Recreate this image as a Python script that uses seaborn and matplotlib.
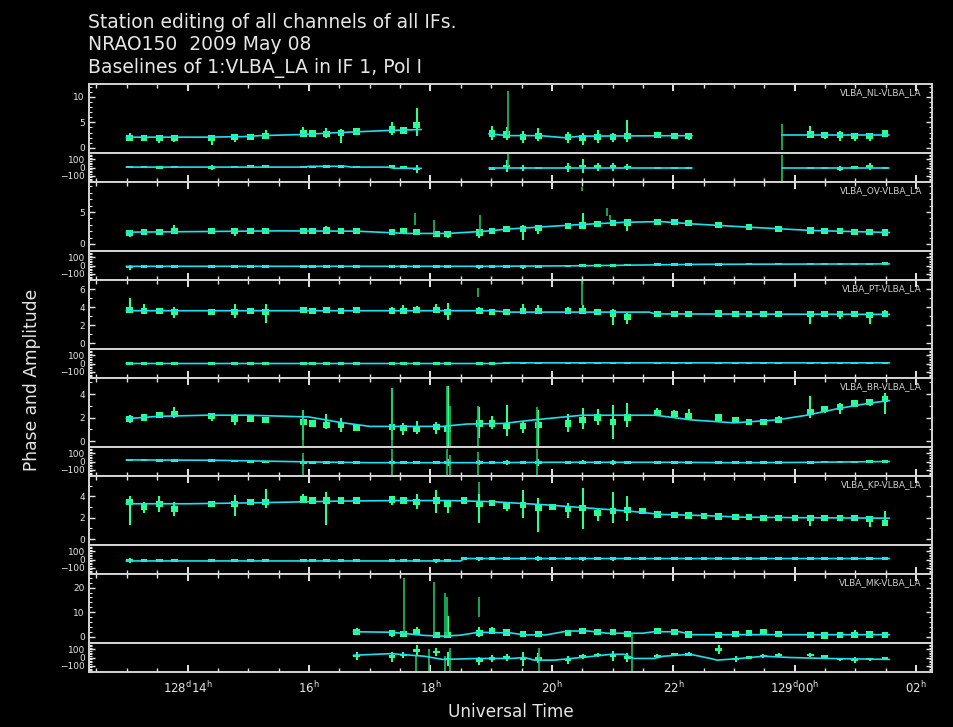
import numpy as np
import pandas as pd
import matplotlib
matplotlib.use("Agg")
import matplotlib.pyplot as plt
import seaborn as sns
from matplotlib.ticker import MultipleLocator, FixedLocator

nan = np.nan

# scan start times, hours of day 128
scan_t = [12.99, 13.23, 13.48, 13.73, 14.34, 14.72, 14.98, 15.23, 15.85, 16.00,
          16.23, 16.47, 16.73, 17.31, 17.50, 17.72, 18.04, 18.23, 18.50, 18.75,
          18.96, 19.20, 19.47, 19.72, 19.96, 20.21, 20.45, 20.70, 20.95, 21.19,
          21.44, 21.68, 21.96, 22.20, 22.45, 22.69, 22.97, 23.19, 23.43, 23.68,
          23.95, 24.20, 24.44, 24.69, 24.93, 25.18, 25.43]
scan_len = 0.11

baselines = ["VLBA_NL-VLBA_LA", "VLBA_OV-VLBA_LA", "VLBA_PT-VLBA_LA",
             "VLBA_BR-VLBA_LA", "VLBA_KP-VLBA_LA", "VLBA_MK-VLBA_LA"]

# ---- NL ----
nl_amp = [2.0, 2.0, 1.9, 1.9, 2.0, 2.1, 2.1, 2.3, 2.8, 2.8,
          2.7, 2.9, 3.2, 3.6, 3.4, 4.5, nan, nan, nan, nan,
          2.8, 2.6, 2.2, 2.3, nan, 2.1, 1.9, 2.1, 2.1, 2.4,
          nan, 2.5, 2.4, 2.3, nan, nan, nan, nan, nan, nan,
          nan, 2.6, 2.5, 2.5, 2.4, 2.3, 2.8]
nl_lo = [1.6, 1.8, 1.0, 1.2, 0.6, 1.1, 1.9, 2.0, 2.3, 2.5,
         2.0, 0.9, 2.8, 2.5, 3.2, 2.4, nan, nan, nan, nan,
         1.6, 1.5, 1.0, 1.4, nan, 1.0, 0.6, 1.0, 1.2, 1.2,
         nan, 2.0, 1.8, 1.5, nan, nan, nan, nan, nan, nan,
         nan, 2.0, 1.8, 1.3, 1.3, 1.3, 2.3]
nl_hi = [2.9, 2.3, 2.3, 2.6, 2.6, 2.8, 2.4, 3.5, 4.0, 3.2,
         3.8, 3.6, 3.9, 5.0, 3.7, 7.8, nan, nan, nan, nan,
         4.2, 4.1, 3.4, 3.8, nan, 3.2, 3.0, 3.5, 3.0, 5.5,
         nan, 2.9, 2.9, 2.8, nan, nan, nan, nan, nan, nan,
         nan, 4.2, 3.0, 3.3, 2.8, 2.9, 3.1]
nl_ph = [5, 5, 3, 5, 0, 8, 10, 10, 5, 5,
         12, 15, 5, 10, 5, -20, nan, nan, nan, nan,
         -10, 20, -5, -5, nan, 0, 20, 10, 10, 5,
         nan, -5, -5, -5, nan, nan, nan, nan, nan, nan,
         nan, -5, -5, -10, 0, 10, -5]
nl_ph_err = [12, 10, 10, 12, 25, 15, 10, 10, 12, 10,
             15, 18, 10, 18, 10, 45, nan, nan, nan, nan,
             20, 70, 40, 15, nan, 60, 90, 50, 50, 35,
             nan, 12, 12, 12, nan, nan, nan, nan, nan, nan,
             nan, 12, 12, 30, 12, 45, 12]
nl_spk = [(19.27, 2.5, 11.2), (23.79, -0.5, 4.7)]
nl_ph_spk = [(19.27, 20, 180), (23.79, -180, 150)]
nl_mod_t = [12.99, 14.3, 14.9, 15.2, 15.85, 16.5, 17.3, 17.85, nan,
            18.96, 19.27, 19.8, 20.2, 20.5, 22.31, nan, 23.79, 25.56]
nl_mod = [2.1, 2.1, 2.2, 2.4, 2.6, 3.0, 3.4, 3.6, nan,
          2.75, 2.4, 2.4, 2.0, 2.3, 2.4, nan, 2.6, 2.6]
nl_pmod_t = [12.99, 15.9, 16.0, 16.6, 16.7, 17.3, 17.4, 17.85, nan,
             18.96, 22.31, nan, 23.79, 25.56]
nl_pmod = [5, 5, 15, 15, 5, 5, -10, -10, nan, -5, -5, nan, -5, -5]

# ---- OV ----
ov_amp = [1.7, 1.9, 1.9, 2.0, 2.0, 2.0, 2.0, 2.0, 2.0, 2.05,
          2.1, 2.0, 2.0, 1.9, 2.0, 1.9, 1.6, 1.5, nan, 1.8,
          2.0, 2.35, 2.4, 2.45, nan, 2.8, 2.9, 3.1, 3.3, 3.35,
          nan, 3.45, 3.4, 3.3, nan, 3.0, nan, 2.65, nan, 2.4,
          nan, 2.1, 2.05, 2.0, 1.9, 1.85, 1.8]
ov_lo = [1.1, 1.7, 1.7, 1.8, 1.8, 1.2, 1.8, 1.5, 1.8, 1.8,
         1.9, 1.8, 1.8, 1.5, 1.8, 1.6, 1.2, 1.0, nan, 0.9,
         1.8, 2.0, 0.7, 1.5, nan, 2.5, 2.4, 2.9, 3.1, 2.0,
         nan, 3.3, 3.25, 3.15, nan, 2.85, nan, 2.5, nan, 2.25,
         nan, 1.7, 1.9, 1.85, 1.75, 1.5, 1.65]
ov_hi = [2.0, 2.1, 2.1, 2.9, 2.2, 2.3, 2.2, 2.4, 2.3, 2.3,
         2.8, 2.2, 2.2, 2.2, 2.2, 2.2, 1.9, 1.9, nan, 2.4,
         2.3, 2.7, 3.0, 2.6, nan, 3.3, 4.8, 3.3, 3.5, 3.6,
         nan, 3.6, 3.55, 3.45, nan, 3.15, nan, 2.8, nan, 2.55,
         nan, 2.3, 2.2, 2.15, 2.05, 2.0, 2.3]
ov_ph = [-20, -10, -12, -10, -10, -10, -10, -12, -10, -10,
         -10, -10, -10, -12, -10, -10, -12, -15, nan, -15,
         -10, -10, -15, -10, nan, -5, 0, 0, 2, 5,
         nan, 10, 12, 12, nan, 15, nan, 17, nan, 18,
         nan, 20, 20, 20, 20, 20, 22]
ov_ph_err = [30, 10, 10, 10, 10, 10, 10, 10, 10, 10,
             10, 10, 10, 20, 10, 10, 10, 20, nan, 25,
             10, 10, 25, 10, nan, 10, 15, 10, 10, 10,
             nan, 10, 10, 10, nan, 10, nan, 10, nan, 10,
             nan, 10, 10, 10, 10, 10, 10]
ov_spk = [(17.74, 3.0, 4.8), (18.06, 1.2, 3.7), (18.82, 1.5, 4.6),
          (20.49, 8.3, 8.9), (20.90, 4.4, 5.7), (20.96, 3.8, 4.6)]
ov_ph_spk = []
ov_mod_t = [12.99, 14.3, 15.5, 16.8, 17.6, 18.3, 18.9, 19.3, 20.3, 21.2,
            21.8, 22.3, 23.2, 23.8, 24.3, 25.56]
ov_mod = [1.85, 1.95, 2.05, 2.0, 1.65, 1.65, 2.0, 2.35, 2.95, 3.4,
          3.5, 3.15, 2.65, 2.35, 2.1, 1.8]
ov_pmod_t = [12.99, 19.0, 20.5, 21.7, 22.5, 25.56]
ov_pmod = [-10, -10, -3, 8, 15, 20]

# ---- PT ----
pt_amp = [3.7, 3.6, 3.55, 3.45, 3.5, 3.5, 3.55, 3.5, 3.65, 3.6,
          3.65, 3.55, 3.65, 3.55, 3.6, 3.7, 3.7, 3.5, nan, 3.6,
          3.5, 3.45, 3.6, 3.6, nan, 3.6, 3.55, 3.5, 3.3, 2.9,
          nan, 3.25, 3.25, 3.2, nan, 3.3, 3.25, 3.25, 3.2, 3.2,
          nan, 3.25, 3.25, 3.2, 3.2, 3.15, 3.25]
pt_lo = [3.5, 3.4, 3.3, 2.85, 3.2, 2.8, 3.4, 2.2, 3.5, 3.5,
         3.5, 3.45, 3.5, 3.4, 3.5, 3.5, 3.5, 2.6, nan, 3.4,
         3.3, 3.3, 3.4, 3.4, nan, 3.4, 3.2, 3.3, 2.0, 2.1,
         nan, 3.1, 3.1, 3.05, nan, 3.2, 3.15, 3.15, 3.1, 3.1,
         nan, 2.15, 3.1, 2.7, 3.1, 2.1, 3.0]
pt_hi = [5.0, 4.3, 3.8, 4.0, 3.7, 4.3, 3.7, 4.3, 3.9, 3.7,
         4.0, 3.7, 3.9, 4.0, 4.2, 4.1, 4.3, 4.5, nan, 4.0,
         3.7, 3.6, 4.3, 4.2, nan, 4.0, 4.2, 3.7, 3.8, 3.4,
         nan, 3.4, 3.4, 3.35, nan, 3.45, 3.35, 3.35, 3.3, 3.35,
         nan, 3.45, 3.4, 3.45, 3.35, 3.5, 3.7]
pt_ph = [0, 0, 0, 0, 0, 0, 0, 0, 0, 0,
         0, 0, 0, 0, 0, 0, 0, 0, nan, 0,
         0, 8, 8, 8, nan, 8, 8, 8, 8, 8,
         nan, 8, 8, 8, nan, 8, 8, 8, 8, 8,
         nan, 8, 8, 8, 8, 8, 8]
pt_ph_err = [8, 8, 8, 8, 8, 8, 8, 8, 8, 8,
             8, 8, 8, 8, 8, 8, 8, 8, nan, 8,
             8, 8, 15, 8, nan, 8, 8, 8, 12, 12,
             nan, 8, 8, 8, nan, 8, 8, 8, 8, 8,
             nan, 8, 8, 8, 8, 8, 8]
pt_spk = [(18.78, 5.1, 6.1), (20.49, 4.2, 6.9)]
pt_ph_spk = []
pt_mod_t = [12.99, 19.0, 19.3, 21.6, 21.7, 25.56]
pt_mod = [3.6, 3.6, 3.45, 3.45, 3.25, 3.2]
pt_pmod_t = [12.99, 19.1, 19.3, 25.56]
pt_pmod = [0, 0, 8, 8]

# ---- BR ----
br_amp = [1.9, 2.0, 2.2, 2.3, 2.1, 1.9, 1.9, 1.8, 1.6, 1.5,
          1.4, 1.4, 1.1, 1.2, 1.1, 1.0, 1.2, 1.0, nan, 1.5,
          1.5, 1.3, 1.3, 1.4, nan, 1.5, 1.8, 2.0, 1.6, 2.0,
          nan, 2.4, 2.3, 2.1, nan, 2.0, 1.8, 1.6, 1.65, 1.8,
          nan, 2.5, 2.7, 2.9, 3.2, 3.3, 3.6]
br_lo = [1.5, 1.8, 2.0, 2.0, 1.7, 1.4, 1.6, 1.6, 0.1, 1.2,
         1.0, 0.8, 0.9, 0.1, 0.5, 0.6, 0.6, -0.5, nan, 0.3,
         1.0, 0.4, 0.7, -0.5, nan, 0.8, 1.0, 1.4, 0.2, 1.2,
         nan, 2.2, 2.1, 2.0, nan, 1.8, 1.6, 1.5, 1.5, 1.6,
         nan, 2.0, 2.4, 2.3, 3.0, 3.0, 2.3]
br_hi = [2.2, 2.3, 2.5, 2.9, 2.2, 2.3, 2.1, 2.0, 2.6, 1.7,
         2.3, 2.0, 1.3, 4.5, 1.5, 1.7, 1.6, 4.7, nan, 2.9,
         2.1, 3.1, 1.7, 2.6, nan, 2.3, 2.8, 2.7, 3.1, 3.2,
         nan, 2.8, 2.6, 2.7, nan, 2.2, 1.9, 1.8, 1.8, 2.1,
         nan, 3.8, 3.0, 3.2, 3.4, 3.6, 4.1]
br_ph = [20, 20, 15, 15, 10, 5, 0, -5, -10, -10,
         -10, -12, -15, -15, -15, -15, -15, -15, nan, -15,
         -15, -15, -12, -10, nan, -10, -10, -10, -10, -10,
         nan, -10, -10, -10, nan, -12, -15, -15, -12, -12,
         nan, -10, -8, -5, -5, 0, 0]
br_ph_err = [10, 10, 10, 10, 10, 10, 10, 10, 40, 10,
             15, 15, 10, 40, 10, 15, 15, 40, nan, 30,
             15, 30, 15, 40, nan, 15, 25, 15, 30, 20,
             nan, 10, 10, 10, nan, 10, 10, 10, 10, 10,
             nan, 15, 10, 10, 10, 10, 15]
br_spk = [(15.90, -0.5, 2.6), (17.36, -0.5, 4.5), (18.27, -0.5, 4.7),
          (18.33, -0.5, 3.0), (18.78, -0.5, 3.0), (19.75, -0.5, 2.9)]
br_ph_spk = [(15.90, -180, 100), (17.36, -180, 150), (18.27, -180, 160),
             (18.33, -180, 80), (18.78, -180, 120), (19.75, -180, 150)]
br_mod_t = [12.99, 13.5, 14.3, 15.0, 16.0, 16.5, 17.0, 18.2, 18.6, 19.2,
            19.7, 20.5, 21.7, 22.3, 23.0, 23.7, 24.2, 24.7, 25.2, 25.56]
br_mod = [1.9, 2.1, 2.2, 2.2, 2.05, 1.6, 1.25, 1.25, 1.45, 1.5,
          1.8, 2.2, 2.2, 1.8, 1.55, 1.8, 2.2, 2.75, 3.2, 3.45]
br_pmod_t = [12.99, 14.5, 16.0, 17.0, 19.0, 20.0, 22.0, 23.0, 24.0, 25.56]
br_pmod = [20, 15, -5, -15, -15, -10, -10, -15, -12, 0]

# ---- KP ----
kp_amp = [3.5, 3.0, 3.3, 2.8, 3.25, 3.3, 3.45, 3.5, 3.7, 3.6,
          3.6, 3.6, 3.6, 3.7, 3.6, 3.5, 3.6, 3.3, 3.6, 3.3,
          3.4, 3.1, 3.2, 2.9, 3.0, 2.8, 2.9, 2.4, 2.6, 2.7,
          2.6, 2.3, 2.25, 2.2, 2.15, 2.1, 2.05, 2.05, 2.0, 2.0,
          2.0, 1.95, 1.95, 1.95, 1.95, 1.9, 1.5]
kp_lo = [1.3, 2.4, 2.5, 2.2, 3.1, 2.2, 3.3, 2.9, 3.4, 3.4,
         1.3, 3.4, 3.5, 3.2, 3.3, 2.8, 2.4, 2.4, 3.4, 1.5,
         3.2, 2.6, 2.0, 0.7, 2.8, 2.0, 0.9, 1.7, 1.5, 1.7,
         2.4, 2.2, 2.1, 2.1, 2.0, 2.0, 1.9, 1.9, 1.85, 1.85,
         1.85, 1.2, 1.8, 1.8, 1.8, 1.1, 1.3]
kp_hi = [4.0, 3.5, 4.0, 3.5, 3.5, 4.1, 3.6, 4.7, 4.25, 3.9,
         4.4, 3.8, 3.8, 4.0, 3.9, 4.2, 4.6, 3.6, 3.7, 4.2,
         3.6, 3.4, 4.6, 3.8, 3.2, 3.4, 4.8, 2.9, 4.4, 4.0,
         2.8, 2.45, 2.35, 2.3, 2.3, 2.25, 2.2, 2.2, 2.15, 2.15,
         2.1, 2.15, 2.1, 2.1, 2.1, 2.1, 2.6]
kp_ph = [-15, -15, -15, -15, -15, -15, -15, -15, -15, -15,
         -15, -15, -15, -15, -15, -15, -15, -15, 10, 10,
         10, 10, 10, 10, 10, 10, 10, 10, 10, 10,
         10, 10, 10, 10, 10, 10, 10, 10, 10, 10,
         10, 10, 10, 10, 10, 10, 10]
kp_ph_err = [30, 10, 10, 10, 10, 15, 10, 15, 10, 10,
             15, 10, 10, 10, 10, 10, 25, 15, 10, 25,
             10, 10, 15, 30, 10, 15, 25, 10, 25, 15,
             10, 10, 10, 10, 10, 10, 10, 10, 10, 10,
             10, 15, 10, 10, 10, 15, 10]
kp_spk = [(18.80, 4.2, 5.3)]
kp_ph_spk = []
kp_mod_t = [12.99, 14.0, 15.2, 16.5, 17.5, 18.3, 19.0, 19.9, 20.6, 21.3,
            21.8, 22.5, 23.1, 24.0, 25.56]
kp_mod = [3.3, 3.3, 3.4, 3.55, 3.6, 3.6, 3.5, 3.2, 2.9, 2.6,
          2.3, 2.2, 2.05, 2.0, 1.95]
kp_pmod_t = [12.99, 18.5, 18.55, 25.56]
kp_pmod = [-18, -18, 12, 12]

# ---- MK ----
mk_amp = [nan, nan, nan, nan, nan, nan, nan, nan, nan, nan,
          nan, nan, 2.0, 1.4, 1.2, 2.0, 0.7, 0.8, nan, 1.6,
          2.3, 1.7, 1.0, 1.0, nan, 1.5, 2.3, 2.0, 1.8, 1.0,
          nan, 2.3, 2.0, 0.9, nan, 0.6, 1.2, 1.5, 2.0, 1.0,
          nan, 0.7, 0.5, 0.6, 0.6, 0.9, 0.8]
mk_lo = [nan, nan, nan, nan, nan, nan, nan, nan, nan, nan,
         nan, nan, 0.7, 0.0, 0.5, 0.7, 0.0, 0.0, nan, 0.0,
         1.0, 0.7, 0.3, 0.4, nan, 0.7, 1.4, 1.4, 1.0, 0.3,
         nan, 1.7, 1.6, 0.5, nan, 0.4, 0.6, 0.6, 1.2, 0.6,
         nan, 0.3, 0.2, 0.3, 0.1, 0.6, 0.4]
mk_hi = [nan, nan, nan, nan, nan, nan, nan, nan, nan, nan,
         nan, nan, 3.5, 2.3, 2.0, 4.1, 1.4, 8.5, nan, 4.0,
         4.0, 2.8, 1.6, 1.6, nan, 2.0, 3.7, 2.6, 2.4, 1.6,
         nan, 2.8, 2.4, 1.5, nan, 1.0, 1.8, 2.0, 2.6, 1.5,
         nan, 1.1, 0.9, 1.0, 2.7, 1.2, 1.1]
mk_ph = [nan, nan, nan, nan, nan, nan, nan, nan, nan, nan,
         nan, nan, 20, 10, 30, 90, 70, -20, nan, -40,
         -10, 0, -20, -10, nan, -30, 10, 30, 20, 0,
         nan, 20, 40, 40, nan, 100, -20, 0, 20, 30,
         nan, 30, 15, -20, -30, -20, -15]
mk_ph_err = [nan, nan, nan, nan, nan, nan, nan, nan, nan, nan,
             nan, nan, 50, 60, 40, 60, 50, 90, nan, 50,
             40, 45, 90, 60, nan, 50, 30, 25, 60, 60,
             nan, 20, 20, 25, nan, 60, 40, 20, 20, 25,
             nan, 20, 20, 20, 40, 20, 15]
mk_spk = [(17.57, 1.5, 24.0), (18.06, 0.0, 22.3), (18.24, 0.0, 17.8),
          (18.28, 0.0, 16.0), (18.80, 8.0, 16.0), (21.32, -2.6, 1.0)]
mk_ph_spk = [(17.77, -180, 30), (17.98, -180, 100), (18.24, -180, 20),
             (18.32, -180, 120), (19.78, -180, 120), (21.32, -180, 180)]
mk_mod_t = [16.73, 17.35, 17.9, 18.2, 18.5, 18.79, 19.33, 19.55, 19.9, 20.26,
            20.6, 20.9, 21.5, 21.68, 22.1, 22.3, 25.56]
mk_mod = [2.0, 1.8, 0.5, 0.2, 0.6, 1.8, 1.5, 0.7, 0.7, 2.3,
          2.3, 1.4, 1.4, 2.0, 2.0, 0.8, 0.8]
mk_pmod_t = [16.73, 17.35, 17.9, 18.2, 18.79, 19.33, 19.55, 19.71, 20.04, 20.59,
             20.97, 21.19, 21.35, 21.68, 21.84, 22.28, 22.61, 22.72, 23.1, 23.49,
             23.92, 24.52, 25.56]
mk_pmod = [28, 48, 16, -24, -12, -12, 0, -33, -33, 8,
           40, 40, -12, -12, 16, 40, -12, -33, -12, 16,
           0, -12, -24]

amp_ylims = [(-1.0, 12.5), (-1.1, 9.7), (-0.63, 7.0), (-0.5, 5.36), (-0.56, 5.9), (-2.6, 25.6)]
amp_major = [5, 5, 2, 2, 2, 10]
amp_minor = [1, 1, 1, 1, 1, 2]

xtick_pos = [14, 16, 18, 20, 22, 24, 26]
xtick_lab = [r"128$^{\rm d}$14$^{\rm h}$", r"16$^{\rm h}$", r"18$^{\rm h}$", r"20$^{\rm h}$",
             r"22$^{\rm h}$", r"129$^{\rm d}$00$^{\rm h}$", r"02$^{\rm h}$"]

table = [
    (nl_amp, nl_lo, nl_hi, nl_ph, nl_ph_err, nl_spk, nl_ph_spk, nl_mod_t, nl_mod, nl_pmod_t, nl_pmod),
    (ov_amp, ov_lo, ov_hi, ov_ph, ov_ph_err, ov_spk, ov_ph_spk, ov_mod_t, ov_mod, ov_pmod_t, ov_pmod),
    (pt_amp, pt_lo, pt_hi, pt_ph, pt_ph_err, pt_spk, pt_ph_spk, pt_mod_t, pt_mod, pt_pmod_t, pt_pmod),
    (br_amp, br_lo, br_hi, br_ph, br_ph_err, br_spk, br_ph_spk, br_mod_t, br_mod, br_pmod_t, br_pmod),
    (kp_amp, kp_lo, kp_hi, kp_ph, kp_ph_err, kp_spk, kp_ph_spk, kp_mod_t, kp_mod, kp_pmod_t, kp_pmod),
    (mk_amp, mk_lo, mk_hi, mk_ph, mk_ph_err, mk_spk, mk_ph_spk, mk_mod_t, mk_mod, mk_pmod_t, mk_pmod),
]

GREEN = "#2cff8e"
DKGREEN = "#1cc066"
CYAN = "#1ee0ee"
FG = "#e6e6e6"
SPINE = "#d4d4d4"

sns.set_style("dark", {"axes.facecolor": "black", "figure.facecolor": "black"})
plt.rcParams["font.family"] = ["DejaVu Sans"]

W, H = 954, 727
fig = plt.figure(figsize=(W / 100, H / 100), dpi=100)
fig.patch.set_facecolor("black")


def rect(top, bot):
    return [89 / W, 1 - bot / H, 843 / W, (bot - top) / H]


def model_frame(t, v):
    df = pd.DataFrame({"t": t, "v": v})
    df["seg"] = df["v"].isna().cumsum()
    return df.dropna()


def style_axis(ax, ylim, major, minor, top_ticks, bottom_ticks):
    ax.set_facecolor("black")
    ax.set_xlim(12.377, 26.26)
    ax.set_ylim(*ylim)
    for s in ax.spines.values():
        s.set_visible(True)
        s.set_color(SPINE)
        s.set_linewidth(1.4)
    ax.xaxis.set_major_locator(FixedLocator(xtick_pos))
    ax.xaxis.set_minor_locator(MultipleLocator(0.5))
    ax.yaxis.set_major_locator(MultipleLocator(major))
    ax.yaxis.set_minor_locator(MultipleLocator(minor))
    ax.tick_params(axis="y", which="both", direction="in", left=True, right=True,
                   colors=FG, labelsize=6.5, pad=3)
    ax.tick_params(axis="y", which="major", length=4, width=1)
    ax.tick_params(axis="y", which="minor", length=2, width=0.8)
    ax.tick_params(axis="x", which="both", direction="in", top=top_ticks, bottom=bottom_ticks,
                   colors=FG, labelbottom=False)
    ax.tick_params(axis="x", which="major", length=5, width=1.4)
    ax.tick_params(axis="x", which="minor", length=3, width=1)
    ax.grid(False)
    ax.set_xlabel("")
    ax.set_ylabel("")


tmid = np.array(scan_t) + scan_len / 2
block_tops = [84, 182, 280, 378, 476, 574]

for i, (amp, lo, hi, ph, ph_err, spk, ph_spk, mt, mv, pt, pv) in enumerate(table):
    top = block_tops[i]
    sep = top + 69
    bot = top + 98 if i < 5 else 672

    ax_a = fig.add_axes(rect(top, sep))
    ax_p = fig.add_axes(rect(sep, bot), sharex=ax_a)

    # amplitude
    ylo, yhi = amp_ylims[i]
    core = 0.045 * (yhi - ylo)
    amp = np.array(amp, dtype=float)
    ax_a.vlines(tmid, lo, hi, color=GREEN, lw=1.5, zorder=2)
    ax_a.bar(tmid, 2 * core, bottom=amp - core, width=scan_len, color=GREEN,
             linewidth=0, zorder=2)
    if spk:
        st, sl, sh = zip(*spk)
        ax_a.vlines(st, sl, sh, color=DKGREEN, lw=1.2, zorder=2)
    sns.lineplot(data=model_frame(mt, mv), x="t", y="v", units="seg", estimator=None,
                 color=CYAN, lw=1.2, ax=ax_a, zorder=3)

    # phase
    ph = np.array(ph, dtype=float)
    err = np.array(ph_err, dtype=float)
    ax_p.vlines(tmid, ph - err, ph + err, color=GREEN, lw=1.5, zorder=2)
    ax_p.bar(tmid, 32, bottom=ph - 16, width=scan_len, color=GREEN, linewidth=0, zorder=2)
    if ph_spk:
        st, sl, sh = zip(*ph_spk)
        ax_p.vlines(st, sl, sh, color=DKGREEN, lw=1.2, zorder=2)
    sns.lineplot(data=model_frame(pt, pv), x="t", y="v", units="seg", estimator=None,
                 color=CYAN, lw=1.2, ax=ax_p, zorder=3)

    style_axis(ax_a, amp_ylims[i], amp_major[i], amp_minor[i], True, False)
    style_axis(ax_p, (-181, 181), 100, 20, False, True)

    ax_a.text(0.988, 0.87, baselines[i], transform=ax_a.transAxes, ha="right", va="center",
              color="#cfcfcf", fontsize=6.5)

    if i == 5:
        ax_p.tick_params(axis="x", labelbottom=True, labelsize=8.5, pad=6)
        ax_p.set_xticklabels(xtick_lab)

title_kw = dict(color=FG, fontsize=13.5, va="center", ha="left")
fig.text(88 / W, 1 - 22 / H, "Station editing of all channels of all IFs.", **title_kw)
fig.text(88 / W, 1 - 45 / H, "NRAO150  2009 May 08", **title_kw)
fig.text(88 / W, 1 - 68 / H, "Baselines of 1:VLBA_LA in IF 1, Pol I", **title_kw)
fig.text(32 / W, 1 - 380 / H, "Phase and Amplitude", color=FG, fontsize=12.3,
         rotation=90, va="center", ha="center")
fig.text(511 / W, 1 - 712 / H, "Universal Time", color=FG, fontsize=12.2,
         va="center", ha="center")

fig.savefig("out.png", dpi=100, facecolor="black")
